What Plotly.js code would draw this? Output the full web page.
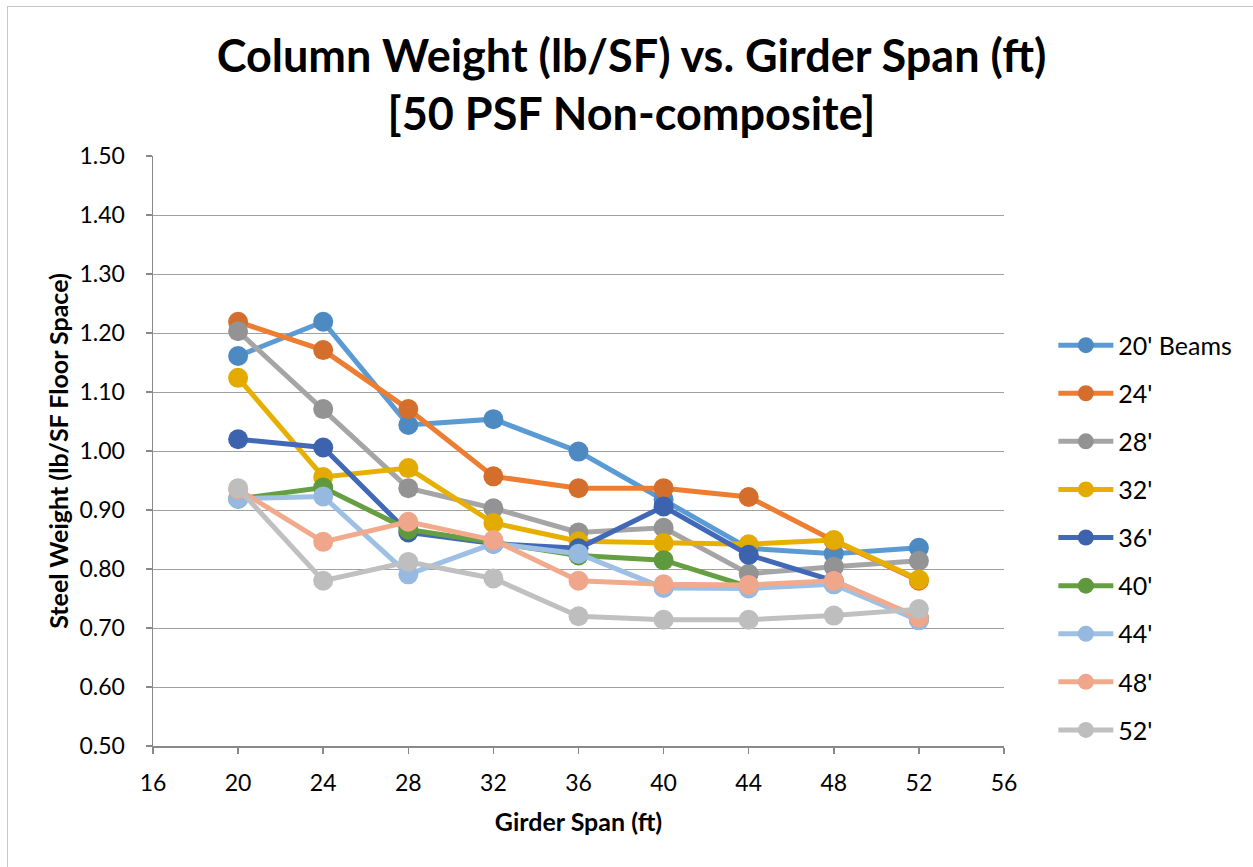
<!DOCTYPE html>
<html>
<head>
<meta charset="utf-8">
<script src="https://cdn.plot.ly/plotly-3.0.1.min.js"></script>
<style>
html,body{margin:0;padding:0;background:#fff;}
#chart{width:1253px;height:867px;}
#frame{position:absolute;left:7px;top:6px;width:1300px;height:900px;border-left:1px solid #c8c8c8;border-top:1px solid #c8c8c8;pointer-events:none;}
</style>
</head>
<body>
<div id="chart"></div>
<div id="frame"></div>
<script>
const girderSpan = [20, 24, 28, 32, 36, 40, 44, 48, 52];
const seriesNames = ["20' Beams", "24'", "28'", "32'", "36'", "40'", "44'", "48'", "52'"];
const beams20 = [1.161, 1.219, 1.044, 1.054, 0.999, 0.918, 0.835, 0.826, 0.836];
const beams24 = [1.219, 1.171, 1.071, 0.957, 0.937, 0.937, 0.922, 0.848, 0.780];
const beams28 = [1.203, 1.071, 0.937, 0.903, 0.862, 0.870, 0.792, 0.804, 0.814];
const beams32 = [1.124, 0.956, 0.971, 0.878, 0.847, 0.844, 0.842, 0.849, 0.782];
const beams36 = [1.020, 1.006, 0.862, 0.843, 0.835, 0.906, 0.824, 0.780, 0.716];
const beams40 = [0.919, 0.938, 0.867, 0.845, 0.823, 0.815, 0.770, 0.775, 0.715];
const beams44 = [0.919, 0.923, 0.791, 0.843, 0.826, 0.768, 0.767, 0.774, 0.713];
const beams48 = [0.935, 0.846, 0.880, 0.849, 0.780, 0.774, 0.773, 0.780, 0.718];
const beams52 = [0.937, 0.780, 0.812, 0.784, 0.720, 0.714, 0.714, 0.721, 0.732];
const allSeries = [beams20, beams24, beams28, beams32, beams36, beams40, beams44, beams48, beams52];

const lineColors = ["#5B9BD5", "#ED7D31", "#A5A5A5", "#E7B000", "#4169B8", "#669F42", "#9DC0E4", "#F2AA8C", "#C0C0C0"];
const markerColors = ["#4D8AC2", "#D46E2C", "#939393", "#E3AB00", "#3D63AE", "#5F993D", "#95B9E0", "#EFA68A", "#BEBEBE"];

const traces = allSeries.map((vals, i) => ({
  x: girderSpan,
  y: vals,
  name: seriesNames[i],
  legendgroup: 'g' + i,
  type: 'scatter',
  mode: 'lines+markers',
  line: {color: lineColors[i], width: 5},
  marker: {color: markerColors[i], size: 20, line: {width: 0}}
}));

const font = "Lato, 'Open Sans', 'DejaVu Sans', sans-serif";
const layout = {
  width: 1253, height: 867,
  margin: {l: 153, r: 249, t: 156, b: 121},
  paper_bgcolor: '#ffffff', plot_bgcolor: '#ffffff',
  font: {family: font, color: '#000000', size: 23},
  title: {
    text: '<b>Column Weight (lb/SF) vs. Girder Span (ft)<br>[50 PSF Non-composite]</b>',
    font: {family: font, size: 45, color: '#000'},
    x: 0.504, xanchor: 'center', y: 0.917, yanchor: 'top', yref: 'container'
  },
  xaxis: {
    range: [16, 56], dtick: 4, tick0: 16, showgrid: false,
    zeroline: false, showline: true, linecolor: '#898989', linewidth: 1.5,
    ticks: 'outside', ticklen: 6, tickcolor: '#898989', tickwidth: 1.5,
    tickfont: {size: 23, family: font}, ticklabelstandoff: 10,
    title: {text: '<b>Girder Span (ft)</b>', font: {size: 25, family: font}, standoff: 18}
  },
  yaxis: {
    range: [0.5, 1.5], dtick: 0.1, tick0: 0.5, tickformat: '.2f',
    showgrid: true, gridcolor: '#A0A0A0', gridwidth: 1,
    zeroline: false, showline: true, linecolor: '#898989', linewidth: 1.5,
    ticks: 'outside', ticklen: 6, tickcolor: '#898989', tickwidth: 1.5,
    tickfont: {size: 23, family: font}, ticklabelstandoff: 16,
    title: {text: '<b>Steel Weight (lb/SF Floor Space)</b>', font: {size: 25, family: font}, standoff: 3}
  },
  legend: {
    x: 1.058, xanchor: 'left', y: 0.718, yanchor: 'top',
    font: {size: 25, family: font},
    traceorder: 'grouped', tracegroupgap: 12.6,
    itemwidth: 55, bgcolor: 'rgba(0,0,0,0)'
  },
  showlegend: true
};

Plotly.newPlot('chart', traces, layout, {displayModeBar: false, staticPlot: true});
</script>
</body>
</html>
